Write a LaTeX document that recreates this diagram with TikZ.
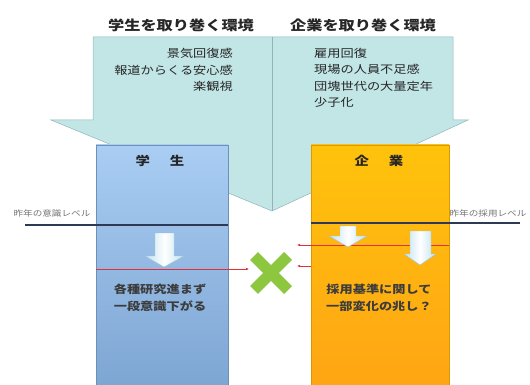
\documentclass[tikz,border=0pt]{standalone}
\usepackage{fontspec}
\newfontfamily\jp[FakeStretch=1.2]{Noto Sans CJK JP}
\usetikzlibrary{arrows.meta}
\definecolor{envfill}{HTML}{C2E5E6}
\definecolor{envline}{HTML}{8EB5BA}
\definecolor{stutop}{HTML}{A9CDF3}
\definecolor{stubot}{HTML}{7DA5D2}
\definecolor{stuline}{HTML}{6E8FB8}
\definecolor{enttop}{HTML}{FFC30C}
\definecolor{entbot}{HTML}{FFA414}
\definecolor{entline}{HTML}{D89A00}
\definecolor{arrblue}{HTML}{BFE1EE}
\definecolor{arrline}{HTML}{9CC4D8}
\definecolor{levelcol}{HTML}{2E3A55}
\definecolor{redl}{HTML}{E0303C}
\definecolor{xgreen}{HTML}{8DC63F}
\definecolor{txt}{HTML}{262626}
\begin{document}
\begin{tikzpicture}[x=1pt,y=-1pt,
  envarrow/.style={fill=envfill,draw=envline,line width=0.5pt},
  title/.style={font=\jp\bfseries\fontsize{13.5}{16}\selectfont,text=txt,inner sep=0pt},
  listtxt/.style={font=\jp\fontsize{11}{16.5}\selectfont,text=txt,inner sep=0pt},
  boxtxt/.style={font=\jp\bfseries\fontsize{11}{17}\selectfont,text=txt!90,inner sep=0pt,align=center},
  headtxt/.style={font=\jp\bfseries\fontsize{12}{14}\selectfont,text=txt,inner sep=0pt},
  lvltxt/.style={font=\jp\fontsize{8}{10}\selectfont,text=black!55,inner sep=0pt},
  stubox/.style={draw=stuline,line width=0.6pt,top color=stutop,bottom color=stubot,minimum width=132pt,minimum height=247pt,inner sep=0pt},
  entbox/.style={draw=entline,line width=0.6pt,top color=enttop,bottom color=entbot,minimum width=138pt,minimum height=247pt,inner sep=0pt},
  blockarr/.style={draw=arrline,line width=0.4pt,left color=arrblue,right color=arrblue,middle color=white},
  levelline/.style={draw=levelcol,line width=1.3pt},
  redarrow/.style={draw=redl,line width=0.6pt,-{Latex[length=3pt,width=2.6pt]}},
  xline/.style={draw=xgreen,line width=11pt}
]
\useasboundingbox (0,0) rectangle (530,385);
\clip (0,0) rectangle (530,385);

% environment arrow
\path[envarrow] (93,37) -- (453,37) -- (453,120) -- (468,120) -- (272,211) -- (51,120) -- (93,120) -- cycle;
\draw[envline,line width=0.5pt] (272,37) -- (272,211);

% titles
\node[title] (ttl1) at (181,25) {学生を取り巻く環境};
\node[title] (ttl2) at (363,25) {企業を取り巻く環境};

% environment lists
\node[listtxt,align=right,anchor=north east] (envS) at (233,48) {景気回復感\\報道からくる安心感\\楽観視};
\node[listtxt,align=left,anchor=north west] (envC) at (314,48) {雇用回復\\現場の人員不足感\\団塊世代の大量定年\\少子化};

% boxes
\node[stubox] (stu) at (162,268.5) {};
\node[entbox] (ent) at (380,268.5) {};
\node[headtxt] (stuh) at (160,161) {学\hspace{20pt}生};
\node[headtxt] (enth) at (379,161) {企\hspace{20pt}業};

% red connectors
\node[inner sep=0pt,minimum size=42pt] (cross) at (271,273) {};
\coordinate (rl1) at (96,269);
\coordinate (rl1e) at (249,269);
\coordinate (rr1) at (449,245);
\coordinate (rr1e) at (297,245);
\coordinate (rr2) at (311,266);
\coordinate (rr2e) at (297,266);
\draw[redarrow] (rl1) -- (rl1e);
\draw[redarrow] (rr1) -- (rr1e);
\draw[redarrow] (rr2) -- (rr2e);

% block arrows
\path[blockarr] (155,233) -- (174,233) -- (174,256) -- (184,256) -- (164,267) -- (145,256) -- (155,256) -- cycle;
\path[blockarr] (340,226) -- (356,226) -- (356,236) -- (367,236) -- (348,247) -- (329,236) -- (340,236) -- cycle;
\path[blockarr] (410,231) -- (431,231) -- (431,254) -- (436,254) -- (420,265) -- (404,254) -- (410,254) -- cycle;

% level lines
\coordinate (lvlL) at (25,225);
\coordinate (lvlR) at (520,223);
\draw[levelline] (lvlL) -- (stu.east |- lvlL);
\draw[levelline] (ent.west |- lvlR) -- (lvlR);
\node[lvltxt] (lvlLt) at (52,213) {昨年の意識レベル};
\node[lvltxt] (lvlRt) at (488,213) {昨年の採用レベル};

% green cross
\draw[xline] (cross.center) ++(-17,-17) -- ++(34,34);
\draw[xline] (cross.center) ++(17,-17) -- ++(-34,34);

% box texts
\node[boxtxt] (stut) at (160,298) {各種研究進まず\\一段意識下がる};
\node[boxtxt] (entt) at (379,298) {採用基準に関して\\一部変化の兆し？};
\end{tikzpicture}
\end{document}
